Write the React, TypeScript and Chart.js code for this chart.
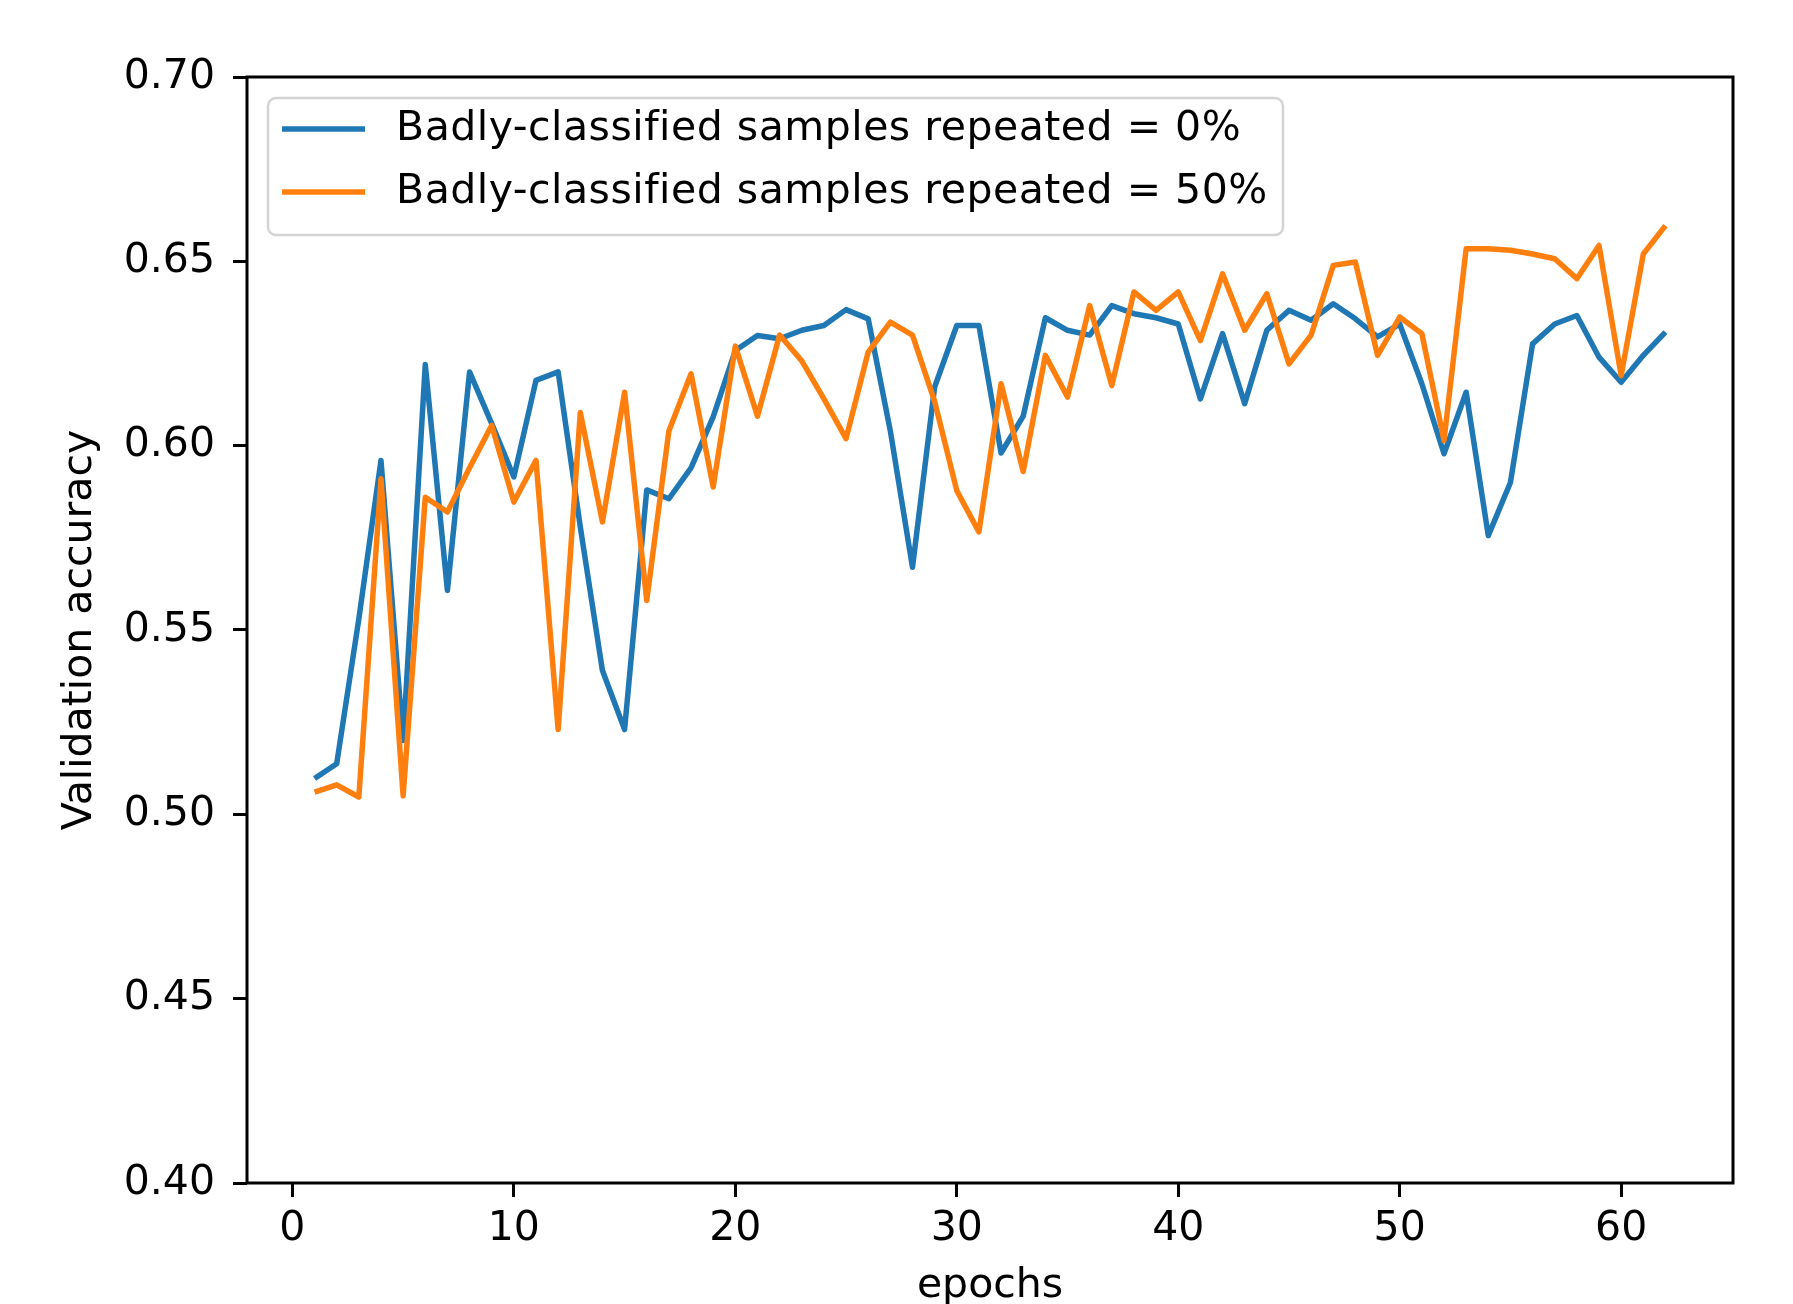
import React, { useEffect, useRef } from "react";
import { Chart, registerables } from "chart.js";

Chart.register(...registerables);

// ---- Data ----
const epochs = [
  1, 2, 3, 4, 5, 6, 7, 8, 9, 10, 11, 12, 13, 14, 15, 16, 17, 18, 19, 20,
  21, 22, 23, 24, 25, 26, 27, 28, 29, 30, 31, 32, 33, 34, 35, 36, 37, 38, 39, 40,
  41, 42, 43, 44, 45, 46, 47, 48, 49, 50, 51, 52, 53, 54, 55, 56, 57, 58, 59, 60,
  61, 62,
];

const repeated0 = [
  0.5097, 0.5137, 0.553, 0.596, 0.520, 0.622, 0.5607, 0.620, 0.606, 0.5915,
  0.6177, 0.620, 0.578, 0.539, 0.523, 0.588, 0.5856, 0.594, 0.6078, 0.6258,
  0.6299, 0.629, 0.6313, 0.6326, 0.6369, 0.6344, 0.604, 0.567, 0.6159, 0.6326,
  0.6326, 0.598, 0.608, 0.6347, 0.6313, 0.630, 0.638, 0.6358, 0.6347, 0.633,
  0.6127, 0.6304, 0.6114, 0.6313, 0.6367, 0.634, 0.6385, 0.6344, 0.6295, 0.633,
  0.6168, 0.5978, 0.6145, 0.5756, 0.590, 0.6276, 0.633, 0.6353, 0.624, 0.6172,
  0.6245, 0.6308,
];

const repeated50 = [
  0.506, 0.508, 0.5047, 0.591, 0.505, 0.586, 0.582, 0.594, 0.6055, 0.5847,
  0.596, 0.523, 0.609, 0.5793, 0.6145, 0.558, 0.604, 0.6195, 0.5888, 0.627,
  0.608, 0.630, 0.623, 0.6127, 0.6019, 0.6254, 0.6335, 0.630, 0.612, 0.5878,
  0.5766, 0.6168, 0.593, 0.6245, 0.6132, 0.638, 0.6163, 0.6417, 0.6367, 0.6417,
  0.6285, 0.6466, 0.6313, 0.6412, 0.6222, 0.630, 0.6489, 0.6498, 0.6245, 0.6349,
  0.6304, 0.6014, 0.6534, 0.6534, 0.6530, 0.652, 0.6507, 0.6453, 0.6543, 0.619,
  0.652, 0.6597,
];

const seriesLabels = [
  "Badly-classified samples repeated = 0%",
  "Badly-classified samples repeated = 50%",
];

const xTickValues = [0, 10, 20, 30, 40, 50, 60];
const yTickValues = [0.4, 0.45, 0.5, 0.55, 0.6, 0.65, 0.7];

const xAxisTitle = "epochs";
const yAxisTitle = "Validation accuracy";

// ---- Styling ----
const FONT = '"DejaVu Sans"';
const FONT_SIZE = 41;
const BLUE = "#1f77b4";
const ORANGE = "#ff7f0e";

const framePlugin = {
  id: "mplFrame",
  afterDatasetsDraw(chart: any) {
    const { ctx, chartArea } = chart;
    ctx.save();
    ctx.strokeStyle = "#000";
    ctx.lineWidth = 3;
    ctx.strokeRect(
      chartArea.left,
      chartArea.top,
      chartArea.right - chartArea.left,
      chartArea.bottom - chartArea.top
    );
    ctx.restore();
  },
};

const legendPlugin = {
  id: "mplLegend",
  afterDraw(chart: any) {
    const ctx = chart.ctx;
    ctx.save();
    const bx = 268, by = 98, bw = 1015, bh = 137, r = 8;
    ctx.beginPath();
    if (ctx.roundRect) ctx.roundRect(bx, by, bw, bh, r);
    else ctx.rect(bx, by, bw, bh);
    ctx.fillStyle = "rgba(255,255,255,0.8)";
    ctx.fill();
    ctx.strokeStyle = "rgba(204,204,204,0.85)";
    ctx.lineWidth = 2.5;
    ctx.stroke();
    chart.data.datasets.forEach((ds: any, i: number) => {
      const y = 129 + i * 63;
      ctx.strokeStyle = ds.borderColor;
      ctx.lineWidth = 5.5;
      ctx.lineCap = "butt";
      ctx.beginPath();
      ctx.moveTo(282, y);
      ctx.lineTo(365, y);
      ctx.stroke();
      ctx.fillStyle = "#000";
      ctx.font = `${FONT_SIZE}px ${FONT}`;
      try {
        (ctx as any).letterSpacing = "0.5px";
      } catch (e) {}
      ctx.textBaseline = "middle";
      ctx.textAlign = "left";
      ctx.fillText(ds.label, 396, y);
    });
    ctx.restore();
  },
};

export default function App() {
  const canvasRef = useRef<HTMLCanvasElement | null>(null);

  useEffect(() => {
    const canvas = canvasRef.current;
    if (!canvas) return;

    const toPoints = (vals: number[]) =>
      epochs.map((e, i) => ({ x: e, y: vals[i] }));

    const chart = new Chart(canvas, {
      type: "line",
      data: {
        datasets: [
          {
            label: seriesLabels[0],
            data: toPoints(repeated0),
            borderColor: BLUE,
            backgroundColor: BLUE,
            borderWidth: 5.5,
            pointRadius: 0,
            tension: 0,
            borderJoinStyle: "round",
            order: 1,
          },
          {
            label: seriesLabels[1],
            data: toPoints(repeated50),
            borderColor: ORANGE,
            backgroundColor: ORANGE,
            borderWidth: 5.5,
            pointRadius: 0,
            tension: 0,
            borderJoinStyle: "round",
            order: 0,
          },
        ],
      },
      plugins: [framePlugin, legendPlugin],
      options: {
        animation: false,
        responsive: false,
        devicePixelRatio: 1,
        layout: { padding: { top: 77, right: 60, left: 0, bottom: 0 } },
        plugins: {
          legend: { display: false },
          tooltip: { enabled: false },
        },
        scales: {
          x: {
            type: "linear",
            min: -2.05,
            max: 65.05,
            afterBuildTicks: (scale: any) => {
              scale.ticks = xTickValues.map((v) => ({ value: v }));
            },
            afterFit: (scale: any) => {
              scale.height = 157;
            },
            grid: {
              display: true,
              drawOnChartArea: false,
              drawTicks: true,
              tickLength: 14,
              tickColor: "#000",
              tickWidth: 3,
            },
            border: { display: false },
            ticks: {
              color: "#000",
              font: { family: FONT, size: FONT_SIZE },
              padding: 8,
              maxRotation: 0,
              autoSkip: false,
              callback: (v: any) => String(v),
            },
            title: {
              display: true,
              text: xAxisTitle,
              color: "#000",
              font: { family: FONT, size: FONT_SIZE },
              padding: { top: 0, bottom: 29 },
            },
          },
          y: {
            type: "linear",
            min: 0.4,
            max: 0.7,
            afterBuildTicks: (scale: any) => {
              scale.ticks = yTickValues.map((v) => ({ value: v }));
            },
            afterFit: (scale: any) => {
              scale.width = 247;
            },
            grid: {
              display: true,
              drawOnChartArea: false,
              drawTicks: true,
              tickLength: 14,
              tickColor: "#000",
              tickWidth: 3,
            },
            border: { display: false },
            ticks: {
              color: "#000",
              font: { family: FONT, size: FONT_SIZE },
              padding: 18,
              autoSkip: false,
              callback: (v: any) => Number(v).toFixed(2),
            },
            title: {
              display: true,
              text: yAxisTitle,
              color: "#000",
              font: { family: FONT, size: FONT_SIZE },
              padding: { top: 56, bottom: 0 },
            },
          },
        },
      } as any,
    });

    return () => {
      chart.destroy();
    };
  }, []);

  return (
    <div
      style={{
        position: "absolute",
        left: 0,
        top: 0,
        width: 1793,
        height: 1304,
        overflow: "hidden",
        background: "#fff",
      }}
    >
      <canvas
        ref={canvasRef}
        width={1793}
        height={1340}
        style={{ display: "block", width: 1793, height: 1340 }}
      />
    </div>
  );
}
